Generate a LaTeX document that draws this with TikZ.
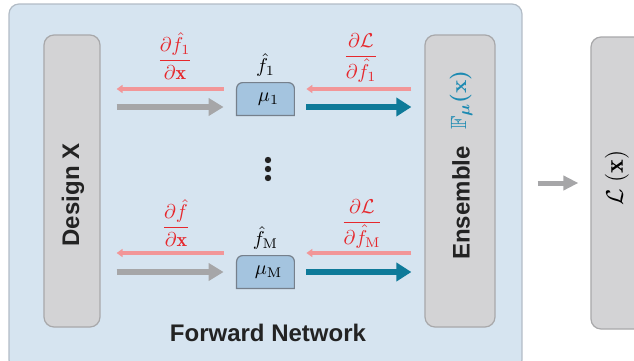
\documentclass[tikz,border=0pt]{standalone}
\usepackage{fontspec}
\setsansfont{Liberation Sans}
\usepackage{amsmath,amssymb}
\usetikzlibrary{arrows.meta, positioning}
\definecolor{netbg}{RGB}{214,228,240}
\definecolor{netline}{RGB}{178,188,198}
\definecolor{boxgrey}{RGB}{211,211,213}
\definecolor{boxline}{RGB}{168,168,170}
\definecolor{mufill}{RGB}{164,196,223}
\definecolor{muline}{RGB}{118,128,140}
\definecolor{arrgrey}{RGB}{166,166,168}
\definecolor{outteal}{RGB}{14,122,153}
\definecolor{gradpink}{RGB}{242,150,152}
\definecolor{gradred}{RGB}{230,40,45}
\definecolor{fteal}{RGB}{28,138,178}
\definecolor{darktext}{RGB}{35,35,35}
\begin{document}
\begin{tikzpicture}[x=0.5pt,y=-0.5pt,
      gbox/.style={draw=boxline,fill=boxgrey,rounded corners=5pt,line width=0.6pt},
      mubox/.style={draw=muline,fill=mufill,line width=0.6pt},
      fwd/.style={draw=arrgrey,line width=3pt,-{Triangle[length=7.5pt,width=8.5pt]}},
      outarr/.style={draw=outteal,line width=2.8pt,-{Triangle[length=7.5pt,width=9pt]}},
      bwd/.style={draw=gradpink,line width=1.7pt,-{Triangle[length=3pt,width=4pt]}},
      grad/.style={text=gradred,inner sep=1pt},
      title/.style={font=\sffamily\bfseries\fontsize{12}{14}\selectfont,text=darktext}]
      \useasboundingbox (0,0) rectangle (634,360);
      % forward network panel
      \node[draw=netline,fill=netbg,rounded corners=5pt,line width=0.6pt,
            minimum width=256.5pt,minimum height=183pt] (net) at (265.5,187) {};
      \node[gbox,minimum width=28pt,minimum height=146pt] (design) at (72,181) {};
      \node[gbox,minimum width=35pt,minimum height=146pt] (ensemble) at (460,181) {};
      \node[gbox,minimum width=36pt,minimum height=146pt] (loss) at (627,183) {};
      \node[title,rotate=90] (designlbl) at (73,195) {Design X};
      \node[title,rotate=90] (enslbl) at (461,203) {Ensemble};
      \node[rotate=90,text=fteal,font=\fontsize{11}{13}\selectfont\boldmath] (flbl) at (461,100)
        {$\mathbb{F}_{\boldsymbol{\mu}}(\mathbf{x})$};
      \node[rotate=90,font=\fontsize{13}{15}\selectfont] (losslbl) at (617,178) {$\mathcal{L}\;(\mathbf{x})$};
      \node[title] (fwdlbl) at (268,333) {Forward Network};
      % surrogate models
      \node[minimum width=28.5pt,minimum height=16pt,inner sep=0pt] (mu1) at (265.5,99) {};
      \node[minimum width=28.5pt,minimum height=16pt,inner sep=0pt] (muM) at (265.5,272) {};
      \foreach \m in {mu1,muM}
        \draw[mubox] (\m.south west) [rounded corners=3pt] -- (\m.north west)
          -- (\m.north east) [sharp corners] -- (\m.south east) -- cycle;
      \node[inner sep=1pt] (mu1txt) at ([xshift=1.5pt]mu1.center) {$\mu_1$};
      \node[inner sep=1pt] (muMtxt) at ([xshift=1.5pt]muM.center) {$\mu_{\mathrm{M}}$};
      \node[above=2pt of mu1,inner sep=1pt] (f1) {$\hat{f}_1$};
      \node[above=2pt of muM,inner sep=1pt] (fM) {$\hat{f}_{\mathrm{M}}$};
      \foreach \y in {160,169,178}
        \fill[darktext] (268,\y) circle (1.6pt);
      % rows
      \coordinate (b1) at (0,89);
      \coordinate (r1) at (0,107);
      \coordinate (bM) at (0,253);
      \coordinate (rM) at (0,272);
      \draw[fwd,shorten <=8pt,shorten >=6.5pt] (design.east |- r1) -- (mu1.west |- r1);
      \draw[fwd,shorten <=8pt,shorten >=6.5pt] (design.east |- rM) -- (muM.west |- rM);
      \draw[bwd,shorten <=6.5pt,shorten >=8pt] (mu1.west |- b1) -- (design.east |- b1);
      \draw[bwd,shorten <=6.5pt,shorten >=8pt] (muM.west |- bM) -- (design.east |- bM);
      \draw[outarr,shorten <=6pt,shorten >=6.5pt] (mu1.east |- r1) -- (ensemble.west |- r1);
      \draw[outarr,shorten <=6pt,shorten >=6.5pt] (muM.east |- rM) -- (ensemble.west |- rM);
      \draw[bwd,shorten <=6.5pt,shorten >=6pt] (ensemble.west |- b1) -- (mu1.east |- b1);
      \draw[bwd,shorten <=6.5pt,shorten >=6pt] (ensemble.west |- bM) -- (muM.east |- bM);
      \draw[fwd,line width=2.5pt,-{Triangle[length=7.5pt,width=7pt]},
            shorten <=21pt,shorten >=6pt] (ensemble.east |- loss) -- (loss.west);
      % gradient labels
      \node[grad] (g1x) at (175,56) {$\dfrac{\partial\hat{f}_1}{\partial\mathbf{x}}$};
      \node[grad] (gMx) at (176,223) {$\dfrac{\partial\hat{f}}{\partial\mathbf{x}}$};
      \node[grad] (gL1) at (361,58) {$\dfrac{\partial\mathcal{L}}{\partial\hat{f}_1}$};
      \node[grad] (gLM) at (362,224) {$\dfrac{\partial\mathcal{L}}{\partial\hat{f}_{\mathrm{M}}}$};
    \end{tikzpicture}
\end{document}
